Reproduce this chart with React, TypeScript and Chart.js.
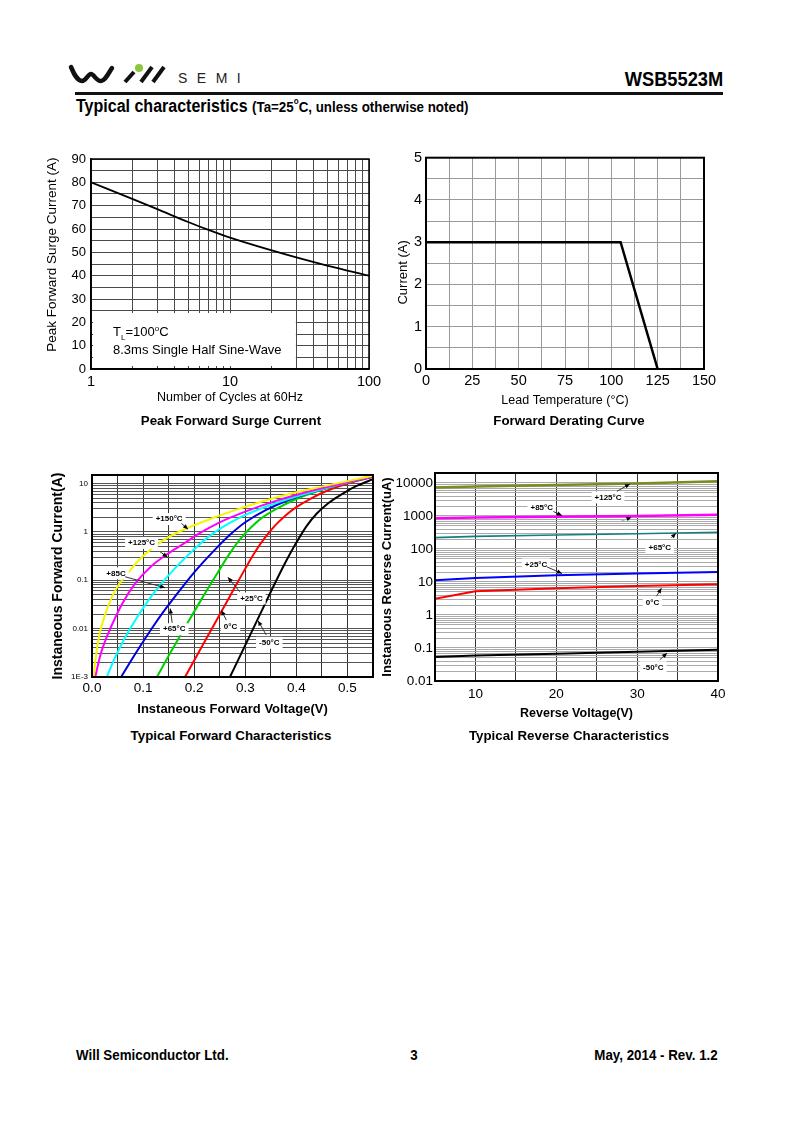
import React, { useEffect, useRef } from 'react';
import { Chart, registerables } from 'chart.js';

Chart.register(...registerables);

const FONT = '"Liberation Sans", Arial, Helvetica, sans-serif';
Chart.defaults.font.family = FONT;
Chart.defaults.color = '#000';

// ---------- Peak forward surge current ----------
const surgeCycles = [1, 2, 3, 5, 7, 10, 20, 30, 50, 100];
const surgeCurrent = [80, 72.8, 68.5, 63, 59.6, 56.3, 50.8, 47.8, 44.3, 40];
const surgeXTickValues = [1, 2, 3, 4, 5, 6, 7, 8, 9, 10, 20, 30, 40, 50, 60, 70, 80, 90, 100];
const surgeXLabelValues = [1, 10, 100];
const surgeXLabels = ['1', '10', '100'];
const surgeYTickValues = [0, 5, 10, 15, 20, 25, 30, 35, 40, 45, 50, 55, 60, 65, 70, 75, 80, 85, 90];
const surgeYLabelValues = [0, 10, 20, 30, 40, 50, 60, 70, 80, 90];
const surgeYLabels = ['0', '10', '20', '30', '40', '50', '60', '70', '80', '90'];

// ---------- Forward derating curve ----------
const deratingTemp = [0, 105, 125];
const deratingCurrent = [3, 3, 0];
const deratingXTickValues = [0, 12.5, 25, 37.5, 50, 62.5, 75, 87.5, 100, 112.5, 125, 137.5, 150];
const deratingXLabelValues = [0, 25, 50, 75, 100, 125, 150];
const deratingXLabels = ['0', '25', '50', '75', '100', '125', '150'];
const deratingYTickValues = [0, 0.5, 1, 1.5, 2, 2.5, 3, 3.5, 4, 4.5, 5];
const deratingYLabelValues = [0, 1, 2, 3, 4, 5];
const deratingYLabels = ['0', '1', '2', '3', '4', '5'];

// ---------- Typical forward characteristics ----------
const fwdTemps = ['+150°C', '+125°C', '+85°C', '+65°C', '+25°C', '0°C', '-50°C'];
const fwd150V = [0.003, 0.008, 0.015, 0.026, 0.045, 0.07, 0.1, 0.14, 0.18, 0.23, 0.28, 0.35, 0.43, 0.5, 0.55];
const fwd150I = [0.001, 0.00282, 0.00794, 0.02, 0.0603, 0.141, 0.316, 0.676, 1.12, 1.82, 2.82, 4.79, 7.76, 11.2, 14.5];
const fwd125V = [0.0065, 0.015, 0.026, 0.04, 0.06, 0.085, 0.115, 0.15, 0.18, 0.21, 0.25, 0.3, 0.36, 0.43, 0.5, 0.55];
const fwd125I = [0.001, 0.00251, 0.00562, 0.0126, 0.0339, 0.0871, 0.191, 0.363, 0.575, 0.933, 1.58, 2.63, 4.37, 7.08, 10.7, 14.1];
const fwd85V = [0.029, 0.045, 0.065, 0.085, 0.11, 0.135, 0.16, 0.19, 0.22, 0.25, 0.29, 0.34, 0.4, 0.47, 0.55];
const fwd85I = [0.001, 0.00251, 0.00661, 0.0151, 0.038, 0.0832, 0.166, 0.347, 0.676, 1.15, 2.0, 3.31, 5.37, 8.71, 14.1];
const fwd65V = [0.057, 0.08, 0.1, 0.12, 0.14, 0.16, 0.18, 0.2, 0.22, 0.245, 0.27, 0.3, 0.34, 0.39, 0.45, 0.5, 0.55];
const fwd65I = [0.001, 0.00251, 0.00537, 0.0112, 0.0224, 0.0427, 0.0794, 0.145, 0.251, 0.479, 0.871, 1.58, 2.82, 4.79, 7.59, 10.5, 13.8];
const fwd25V = [0.127, 0.155, 0.185, 0.215, 0.245, 0.27, 0.29, 0.31, 0.33, 0.36, 0.4, 0.45, 0.5, 0.55];
const fwd25I = [0.001, 0.00339, 0.012, 0.0417, 0.138, 0.363, 0.708, 1.2, 1.86, 2.95, 4.79, 7.41, 10.5, 14.1];
const fwd0V = [0.182, 0.21, 0.24, 0.27, 0.3, 0.32, 0.34, 0.36, 0.38, 0.4, 0.43, 0.46, 0.5, 0.55];
const fwd0I = [0.001, 0.00339, 0.0126, 0.0468, 0.174, 0.398, 0.794, 1.41, 2.24, 3.24, 5.01, 7.08, 10.0, 13.8];
const fwdM50V = [0.27, 0.3, 0.33, 0.36, 0.38, 0.4, 0.42, 0.44, 0.46, 0.48, 0.5, 0.52, 0.55];
const fwdM50I = [0.001, 0.00457, 0.0209, 0.0955, 0.251, 0.603, 1.32, 2.4, 3.72, 5.25, 7.08, 9.12, 12.3];
const fwdColors = ['#f5f500', '#ff00ff', '#00ffff', '#0000dd', '#00d000', '#ff0000', '#000000'];
const fwdXTickValues = [0, 0.05, 0.1, 0.15, 0.2, 0.25, 0.3, 0.35, 0.4, 0.45, 0.5, 0.55];
const fwdXLabelValues = [0, 0.1, 0.2, 0.3, 0.4, 0.5];
const fwdXLabels = ['0.0', '0.1', '0.2', '0.3', '0.4', '0.5'];
const fwdYTickValues = [
  0.001, 0.002, 0.003, 0.004, 0.005, 0.006, 0.007, 0.008, 0.009,
  0.01, 0.02, 0.03, 0.04, 0.05, 0.06, 0.07, 0.08, 0.09,
  0.1, 0.2, 0.3, 0.4, 0.5, 0.6, 0.7, 0.8, 0.9,
  1, 2, 3, 4, 5, 6, 7, 8, 9, 10, 15,
];
const fwdYLabelValues = [0.001, 0.01, 0.1, 1, 10];
const fwdYLabels = ['1E-3', '0.01', '0.1', '1', '10'];
// callouts (label centre, arrow start, arrow tip) in data units
const fwdCalloutText = ['+150°C', '+125°C', '+85C', '+65°C', '+25°C', '0°C', '-50°C'];
const fwdCalloutV = [0.151, 0.097, 0.047, 0.161, 0.312, 0.271, 0.347];
const fwdCalloutI = [1.84, 0.59, 0.139, 0.0097, 0.042, 0.011, 0.0051];
const fwdArrowFromV = [0.175, 0.133, 0.065, 0.157, 0.289, 0.263, 0.341];
const fwdArrowFromI = [1.5, 0.39, 0.118, 0.0132, 0.058, 0.015, 0.0074];
const fwdArrowToV = [0.188, 0.148, 0.143, 0.153, 0.266, 0.253, 0.325];
const fwdArrowToI = [1.13, 0.3, 0.07, 0.026, 0.115, 0.024, 0.0146];

// ---------- Typical reverse characteristics ----------
const revVoltage = [5, 10, 20, 30, 40];
const revTemps = ['+125°C', '+85°C', '+65°C', '+25°C', '0°C', '-50°C'];
const rev125 = [7300, 7800, 8700, 9600, 11200];
const rev85 = [850, 900, 950, 1000, 1080];
const rev65 = [220, 240, 265, 290, 320];
const rev25 = [11.2, 13.2, 16, 18, 20.1];
const rev0 = [3.1, 5.2, 6.4, 7.5, 8.5];
const revM50 = [0.053, 0.059, 0.067, 0.077, 0.088];
const revColors = ['#7d8c1e', '#ff00ff', '#138080', '#0000ff', '#ff0000', '#000000'];
const revXTickValues = [5, 10, 15, 20, 25, 30, 35, 40];
const revXLabelValues = [10, 20, 30, 40];
const revXLabels = ['10', '20', '30', '40'];
const revYTickValues = [
  0.01, 0.02, 0.03, 0.04, 0.05, 0.06, 0.07, 0.08, 0.09,
  0.1, 0.2, 0.3, 0.4, 0.5, 0.6, 0.7, 0.8, 0.9,
  1, 2, 3, 4, 5, 6, 7, 8, 9,
  10, 20, 30, 40, 50, 60, 70, 80, 90,
  100, 200, 300, 400, 500, 600, 700, 800, 900,
  1000, 2000, 3000, 4000, 5000, 6000, 7000, 8000, 9000,
  10000, 20000,
];
const revYLabelValues = [0.01, 0.1, 1, 10, 100, 1000, 10000];
const revYLabels = ['0.01', '0.1', '1', '10', '100', '1000', '10000'];
const revCalloutText = ['+125°C', '+85°C', '', '+65°C', '+25°C', '0°C', '-50°C'];
const revCalloutV = [26.4, 18.2, 27.9, 32.8, 17.5, 31.9, 32];
const revCalloutI = [3640, 1730, 675, 109, 34, 2.35, 0.026];
const revArrowFromV = [27.5, 19.65, 27.9, 34.25, 18.85, 32.4, 32.8];
const revArrowFromI = [5550, 1360, 675, 219, 28.6, 3.7, 0.044];
const revArrowToV = [29.1, 20.7, 29.3, 34.8, 20.7, 33.0, 33.7];
const revArrowToI = [9330, 1030, 920, 299, 18, 6.5, 0.07];

// ---------- helpers ----------
function labelFor(v: number, values: number[], labels: string[]) {
  const i = values.findIndex((t) => Math.abs(t - v) <= 1e-9 * Math.max(1e-3, Math.abs(t)) + 1e-12);
  return i >= 0 ? labels[i] : '';
}

function pts(xs: number[], ys: number[]) {
  return xs.map((x, i) => ({ x, y: ys[i] }));
}

const framePlugin = (width: number) => ({
  id: 'frame',
  afterDraw(chart: any) {
    const { ctx, chartArea: a } = chart;
    ctx.save();
    ctx.strokeStyle = '#000';
    ctx.lineWidth = width;
    ctx.strokeRect(a.left, a.top, a.right - a.left, a.bottom - a.top);
    ctx.restore();
  },
});

function calloutPlugin(
  texts: string[], tx: number[], ty: number[], fx: number[], fy: number[], ax: number[], ay: number[], font: string
) {
  return {
    id: 'callouts',
    afterDatasetsDraw(chart: any) {
      const { ctx } = chart;
      const xs = chart.scales.x;
      const ys = chart.scales.y;
      ctx.save();
      texts.forEach((t, i) => {
        const cx = xs.getPixelForValue(tx[i]);
        const cy = ys.getPixelForValue(ty[i]);
        ctx.font = font;
        if (t) {
          const w = ctx.measureText(t).width;
          ctx.fillStyle = '#fff';
          ctx.fillRect(cx - w / 2 - 3, cy - 6, w + 6, 12);
        }
        const x0 = xs.getPixelForValue(fx[i]);
        const y0 = ys.getPixelForValue(fy[i]);
        const x1 = xs.getPixelForValue(ax[i]);
        const y1 = ys.getPixelForValue(ay[i]);
        ctx.strokeStyle = t ? '#333' : '#aaa';
        ctx.lineWidth = 1;
        ctx.beginPath();
        ctx.moveTo(x0, y0);
        ctx.lineTo(x1, y1);
        ctx.stroke();
        const ang = Math.atan2(y1 - y0, x1 - x0);
        const L = 5;
        const W = 2.2;
        ctx.fillStyle = '#000';
        ctx.beginPath();
        ctx.moveTo(x1, y1);
        ctx.lineTo(x1 - L * Math.cos(ang) + W * Math.sin(ang), y1 - L * Math.sin(ang) - W * Math.cos(ang));
        ctx.lineTo(x1 - L * Math.cos(ang) - W * Math.sin(ang), y1 - L * Math.sin(ang) + W * Math.cos(ang));
        ctx.closePath();
        ctx.fill();
        if (t) {
          ctx.fillStyle = '#000';
          ctx.textAlign = 'center';
          ctx.textBaseline = 'middle';
          ctx.fillText(t, cx, cy);
        }
      });
      ctx.restore();
    },
  };
}

const surgeNotePlugin = {
  id: 'surgeNote',
  beforeDatasetsDraw(chart: any) {
    const { ctx } = chart;
    const xs = chart.scales.x;
    const ys = chart.scales.y;
    const l = xs.getPixelForValue(1) + 2;
    const r = xs.getPixelForValue(30) - 0.5;
    const t = ys.getPixelForValue(24);
    const b = ys.getPixelForValue(0) - 3;
    ctx.save();
    ctx.fillStyle = '#fff';
    ctx.fillRect(l, t, r - l, b - t);
    ctx.fillStyle = '#000';
    ctx.textBaseline = 'middle';
    ctx.textAlign = 'left';
    let x = xs.getPixelForValue(1.44);
    const y1 = ys.getPixelForValue(15.7);
    const y2 = ys.getPixelForValue(7.8);
    ctx.font = `13px ${FONT}`;
    ctx.fillText('T', x, y1);
    x += ctx.measureText('T').width;
    ctx.font = `8px ${FONT}`;
    ctx.fillText('L', x, y1 + 5);
    x += ctx.measureText('L').width;
    ctx.font = `13px ${FONT}`;
    ctx.fillText('=100', x, y1);
    x += ctx.measureText('=100').width;
    ctx.font = `8px ${FONT}`;
    ctx.fillText('o', x, y1 - 4);
    x += ctx.measureText('o').width;
    ctx.font = `13px ${FONT}`;
    ctx.fillText('C', x, y1);
    ctx.fillText('8.3ms Single Half Sine-Wave', xs.getPixelForValue(1.44), y2);
    ctx.restore();
  },
};

function axis(opts: {
  type: string; min: number; max: number; tickValues: number[]; labelValues: number[]; labels: string[];
  size: number; fontSize: number; gridColor: string; title: string; titleSize: number; titleBold?: boolean;
  titlePad: { top: number; bottom: number }; tickPad: number; borderWidth: number; vertical: boolean;
}) {
  return {
    type: opts.type,
    min: opts.min,
    max: opts.max,
    afterBuildTicks: (s: any) => {
      s.ticks = opts.tickValues.map((v) => ({ value: v }));
    },
    afterFit: (s: any) => {
      if (opts.vertical) s.width = opts.size;
      else s.height = opts.size;
    },
    ticks: {
      autoSkip: false,
      maxRotation: 0,
      minRotation: 0,
      padding: opts.tickPad,
      color: '#000',
      font: { size: opts.fontSize },
      callback: (v: any) => labelFor(Number(v), opts.labelValues, opts.labels),
    },
    grid: { color: opts.gridColor, lineWidth: 1, drawTicks: false },
    border: { display: true, color: '#000', width: opts.borderWidth },
    title: {
      display: true,
      text: opts.title,
      color: '#000',
      font: { size: opts.titleSize, weight: opts.titleBold ? 'bold' : 'normal', lineHeight: 1.2 },
      padding: opts.titlePad,
    },
  };
}

function baseOptions(padding: any, scales: any) {
  return {
    responsive: false,
    maintainAspectRatio: false,
    animation: false,
    events: [],
    layout: { padding },
    plugins: { legend: { display: false }, tooltip: { enabled: false }, title: { display: false } },
    elements: { point: { radius: 0 } },
    scales,
  };
}

function surgeConfig(): any {
  return {
    type: 'line',
    data: {
      datasets: [
        {
          data: pts(surgeCycles, surgeCurrent),
          borderColor: '#000',
          borderWidth: 1.8,
          pointRadius: 0,
          cubicInterpolationMode: 'monotone',
          fill: false,
        },
      ],
    },
    options: baseOptions({ left: 0, top: 14, right: 21, bottom: 6 }, {
      x: axis({
        type: 'logarithmic', min: 1, max: 100, tickValues: surgeXTickValues, labelValues: surgeXLabelValues,
        labels: surgeXLabels, size: 45, fontSize: 14.5, gridColor: '#4a4a4a', title: 'Number of Cycles at 60Hz',
        titleSize: 12.5, titlePad: { top: 0, bottom: 8.5 }, tickPad: 4, borderWidth: 1.5, vertical: false,
      }),
      y: axis({
        type: 'linear', min: 0, max: 90, tickValues: surgeYTickValues, labelValues: surgeYLabelValues,
        labels: surgeYLabels, size: 61, fontSize: 13, gridColor: '#4a4a4a', title: '     Peak Forward Surge Current (A)',
        titleSize: 13.5, titlePad: { top: 14.5, bottom: 0 }, tickPad: 5, borderWidth: 1.5, vertical: true,
      }),
    }),
    plugins: [surgeNotePlugin, framePlugin(1.5)],
  };
}

function deratingConfig(): any {
  return {
    type: 'line',
    data: {
      datasets: [
        { data: pts(deratingTemp, deratingCurrent), borderColor: '#000', borderWidth: 2.5, pointRadius: 0, fill: false },
      ],
    },
    options: baseOptions({ left: 0, top: 12, right: 26, bottom: 6 }, {
      x: axis({
        type: 'linear', min: 0, max: 150, tickValues: deratingXTickValues, labelValues: deratingXLabelValues,
        labels: deratingXLabels, size: 45, fontSize: 14.5, gridColor: '#9a9a9a', title: 'Lead Temperature (°C)',
        titleSize: 12.5, titlePad: { top: 0, bottom: 6 }, tickPad: 3, borderWidth: 2, vertical: false,
      }),
      y: axis({
        type: 'linear', min: 0, max: 5, tickValues: deratingYTickValues, labelValues: deratingYLabelValues,
        labels: deratingYLabels, size: 46, fontSize: 14.5, gridColor: '#9a9a9a', title: 'Current (A)     ',
        titleSize: 13, titlePad: { top: 15.5, bottom: 0 }, tickPad: 4, borderWidth: 2, vertical: true,
      }),
    }),
    plugins: [framePlugin(2)],
  };
}

function forwardConfig(): any {
  const series = [
    [fwd150V, fwd150I], [fwd125V, fwd125I], [fwd85V, fwd85I], [fwd65V, fwd65I],
    [fwd25V, fwd25I], [fwd0V, fwd0I], [fwdM50V, fwdM50I],
  ];
  return {
    type: 'line',
    data: {
      datasets: series.map(([v, i], k) => ({
        label: fwdTemps[k],
        data: pts(v, i),
        borderColor: fwdColors[k],
        borderWidth: 2,
        pointRadius: 0,
        cubicInterpolationMode: 'monotone',
        fill: false,
      })),
    },
    options: baseOptions({ left: 0, top: 10, right: 12, bottom: 8 }, {
      x: axis({
        type: 'linear', min: 0, max: 0.55, tickValues: fwdXTickValues, labelValues: fwdXLabelValues,
        labels: fwdXLabels, size: 40, fontSize: 13.5, gridColor: '#333', title: 'Instaneous Forward Voltage(V)',
        titleSize: 13, titleBold: true, titlePad: { top: 0, bottom: 0 }, tickPad: 3, borderWidth: 2, vertical: false,
      }),
      y: axis({
        type: 'logarithmic', min: 0.001, max: 15, tickValues: fwdYTickValues, labelValues: fwdYLabelValues,
        labels: fwdYLabels, size: 57, fontSize: 8, gridColor: '#555', title: 'Instaneous Forward Current(A)',
        titleSize: 14, titleBold: true, titlePad: { top: 14.5, bottom: 0 }, tickPad: 4, borderWidth: 2, vertical: true,
      }),
    }),
    plugins: [
      calloutPlugin(fwdCalloutText, fwdCalloutV, fwdCalloutI, fwdArrowFromV, fwdArrowFromI, fwdArrowToV, fwdArrowToI, `bold 8px ${FONT}`),
      framePlugin(2),
    ],
  };
}

function reverseConfig(): any {
  const series = [rev125, rev85, rev65, rev25, rev0, revM50];
  const widths = [2.5, 2.5, 1.6, 2, 2, 2];
  return {
    type: 'line',
    data: {
      datasets: series.map((s, k) => ({
        label: revTemps[k],
        data: pts(revVoltage, s),
        borderColor: revColors[k],
        borderWidth: widths[k],
        pointRadius: 0,
        fill: false,
      })),
    },
    options: baseOptions({ left: 0, top: 13, right: 22, bottom: 4 }, {
      x: axis({
        type: 'linear', min: 5, max: 40, tickValues: revXTickValues, labelValues: revXLabelValues,
        labels: revXLabels, size: 40, fontSize: 13.5, gridColor: '#333', title: 'Reverse Voltage(V)',
        titleSize: 12.5, titleBold: true, titlePad: { top: 0, bottom: 0 }, tickPad: 5, borderWidth: 2, vertical: false,
      }),
      y: axis({
        type: 'logarithmic', min: 0.01, max: 20000, tickValues: revYTickValues, labelValues: revYLabelValues,
        labels: revYLabels, size: 60, fontSize: 13.5, gridColor: '#aaa', title: 'Instaneous Reverse Current(uA)',
        titleSize: 13, titleBold: true, titlePad: { top: 5, bottom: 0 }, tickPad: 2, borderWidth: 2, vertical: true,
      }),
    }),
    plugins: [
      calloutPlugin(revCalloutText, revCalloutV, revCalloutI, revArrowFromV, revArrowFromI, revArrowToV, revArrowToI, `bold 8px ${FONT}`),
      framePlugin(2),
    ],
  };
}

function ChartBox({ left, top, width, height, make }: { left: number; top: number; width: number; height: number; make: () => any }) {
  const ref = useRef<HTMLCanvasElement>(null);
  useEffect(() => {
    const chart = new Chart(ref.current as HTMLCanvasElement, make());
    return () => chart.destroy();
  }, []);
  return (
    <canvas
      ref={ref}
      width={width}
      height={height}
      style={{ position: 'absolute', left, top, width, height, display: 'block' }}
    />
  );
}

function Txt({
  x, y, size, bold = false, align = 'left', sx = 1, spacing = 0, color = '#000', children,
}: {
  x: number; y: number; size: number; bold?: boolean; align?: 'left' | 'right' | 'center'; sx?: number;
  spacing?: number; color?: string; children: React.ReactNode;
}) {
  const base: React.CSSProperties = {
    position: 'absolute',
    top: y,
    fontFamily: FONT,
    fontSize: size,
    fontWeight: bold ? 700 : 400,
    lineHeight: 1,
    whiteSpace: 'nowrap',
    color,
    letterSpacing: spacing,
  };
  if (align === 'left') {
    return <div style={{ ...base, left: x, transform: `translateY(-50%) scaleX(${sx})`, transformOrigin: 'left center' }}>{children}</div>;
  }
  if (align === 'right') {
    return <div style={{ ...base, right: 800 - x, transform: `translateY(-50%) scaleX(${sx})`, transformOrigin: 'right center' }}>{children}</div>;
  }
  return <div style={{ ...base, left: x, transform: `translate(-50%, -50%) scaleX(${sx})`, transformOrigin: 'center center' }}>{children}</div>;
}

export default function App() {
  return (
    <div style={{ position: 'absolute', left: 0, top: 0, width: 800, height: 1131, background: '#fff', overflow: 'hidden' }}>
      <svg width={800} height={100} style={{ position: 'absolute', left: 0, top: 0 }}>
        <path
          d="M71 67 C74 74, 77 81, 82 81 C86 81, 88 74, 91 74 C94 74, 96 81, 101 81 C105 81, 108 74, 112 68"
          stroke="#111" strokeWidth={4.5} fill="none" strokeLinecap="round"
        />
        <line x1={125} y1={82} x2={134} y2={72} stroke="#111" strokeWidth={4} />
        <line x1={141} y1={82} x2={152} y2={67} stroke="#111" strokeWidth={4} />
        <line x1={153} y1={82} x2={164} y2={67} stroke="#111" strokeWidth={4} />
        <circle cx={139} cy={68} r={4} fill="#8cc63e" />
        <rect x={75} y={92} width={648} height={3} fill="#111" />
        <rect x={75} y={1041} width={648} height={3} fill="#111" />
      </svg>
      <Txt x={178} y={78} size={14} spacing={9.5} color="#222">SEMI</Txt>
      <Txt x={723} y={78} size={21} bold align="right" sx={0.87}>WSB5523M</Txt>
      <Txt x={76} y={106} size={18} bold sx={0.89}>
        Typical characteristics{' '}
        <span style={{ fontSize: 15 }}>
          (Ta=25<sup style={{ fontSize: 9, verticalAlign: 'top', lineHeight: 1 }}>o</sup>C, unless otherwise noted)
        </span>
      </Txt>

      <ChartBox left={30} top={145} width={360} height={275} make={surgeConfig} />
      <ChartBox left={380} top={145} width={350} height={275} make={deratingConfig} />
      <ChartBox left={35} top={465} width={350} height={260} make={forwardConfig} />
      <ChartBox left={375} top={460} width={365} height={265} make={reverseConfig} />

      <Txt x={231} y={421} size={13.3} bold align="center">Peak Forward Surge Current</Txt>
      <Txt x={569} y={421} size={13.3} bold align="center">Forward Derating Curve</Txt>
      <Txt x={231} y={736} size={13.3} bold align="center">Typical Forward Characteristics</Txt>
      <Txt x={569} y={736} size={13.3} bold align="center">Typical Reverse Characteristics</Txt>

      <Txt x={76} y={1054} size={15} bold sx={0.89}>Will Semiconductor Ltd.</Txt>
      <Txt x={414} y={1054} size={15} bold align="center" sx={0.89}>3</Txt>
      <Txt x={718} y={1054} size={15} bold align="right" sx={0.89}>May, 2014 - Rev. 1.2</Txt>
    </div>
  );
}
